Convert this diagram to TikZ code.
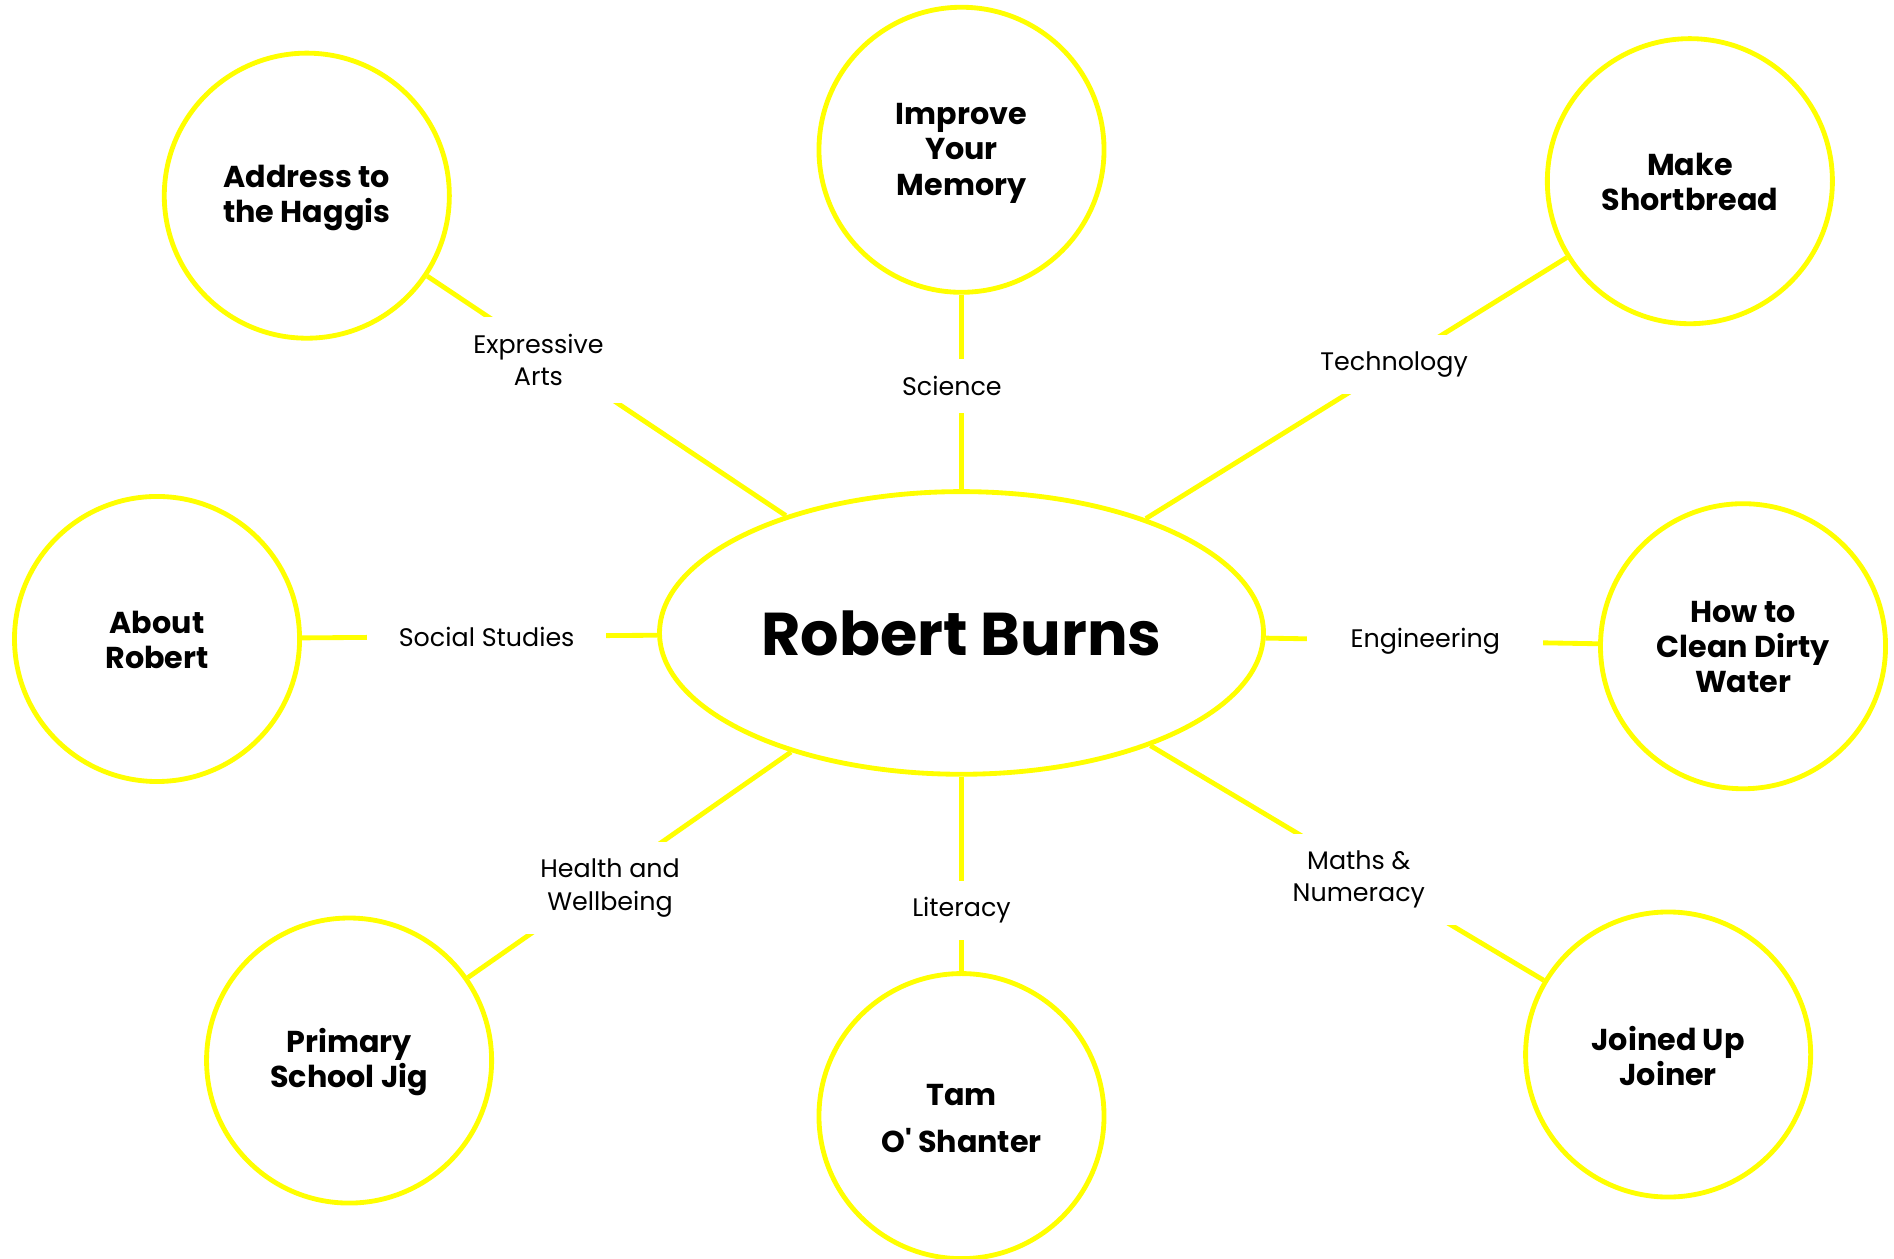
\documentclass[tikz,border=0pt]{standalone}
\usepackage{fontspec}
\setmainfont{Poppins}
\usepackage{tikz}
\usetikzlibrary{shapes.geometric}
\definecolor{burnsYellow}{HTML}{FFFF00}
\tikzset{
  hubnode/.style={ellipse, draw=burnsYellow, line width=2pt, fill=white, inner sep=0pt, minimum width=250pt, minimum height=117pt, font=\fontsize{25}{30}\selectfont\bfseries},
  topicnode/.style={circle, draw=burnsYellow, line width=2pt, fill=white, inner sep=0pt, minimum size=118pt, align=center, font=\fontsize{12.5}{14.5}\selectfont\bfseries},
  topictext/.style={align=center, inner sep=0pt, font=\fontsize{12.5}{14.5}\selectfont\bfseries},
  linkline/.style={draw=burnsYellow, line width=2pt},
  linklabel/.style={fill=white, align=center, inner xsep=13pt, inner ysep=7pt, font=\fontsize{10.5}{13.4}\selectfont}
}

\begin{document}
\begin{tikzpicture}[x=0.5pt,y=-0.5pt]
    \useasboundingbox (0,0) rectangle (1568,1042);

    \node[hubnode] (burns) at (796,524) {Robert Burns};

    % circles first, their texts set a little lower after
    \node[topicnode] (haggis) at (254,162) {};
    \node[topicnode] (memory) at (796,124) {};
    \node[topicnode] (shortbread) at (1399,150) {};
    \node[topicnode] (about) at (130,529) {};
    \node[topicnode] (water) at (1443,535) {};
    \node[topicnode] (jig) at (289,878) {};
    \node[topicnode] (tam) at (796,924) {};
    \node[topicnode] (joiner) at (1381,873) {};

    \node[topictext] (haggistext) at (254,164) {Address to\\the Haggis};
    \node[topictext] (memorytext) at (796,127) {Improve\\Your\\Memory};
    \node[topictext] (shortbreadtext) at (1399,151) {Make\\Shortbread};
    \node[topictext] (abouttext) at (130,530) {About\\Robert};
    \node[topictext] (watertext) at (1443,536) {How to\\Clean Dirty\\Water};
    \node[topictext] (jigtext) at (289,879) {Primary\\School Jig};
    \node[topictext] (tamtext) at (796,926) {Tam\\[5pt]O\textquotesingle{} Shanter};
    \node[topictext] (joinertext) at (1381,874) {Joined Up\\Joiner};

    \draw[linkline] (burns) -- node[linklabel, pos=0.69, yshift=-4pt]{Expressive\\Arts} (haggis);
    \draw[linkline] (burns) -- node[linklabel, pos=0.53, xshift=-4pt]{Science} (memory);
    \draw[linkline] (burns) -- node[linklabel, pos=0.59]{Technology} (shortbread);
    \draw[linkline] (burns) -- node[linklabel, pos=0.48]{Social Studies} (about);
    \draw[linkline] (burns) -- node[linklabel, pos=0.48, inner xsep=18pt]{Engineering} (water);
    \draw[linkline] (burns) -- node[linklabel, pos=0.56, yshift=-4pt]{Health and\\Wellbeing} (jig);
    \draw[linkline] (burns) -- node[linklabel, pos=0.67, yshift=-1.5pt]{Literacy} (tam);
    \draw[linkline] (burns) -- node[linklabel, pos=0.53, yshift=-4pt]{Maths \&\\Numeracy} (joiner);
\end{tikzpicture}
\end{document}
